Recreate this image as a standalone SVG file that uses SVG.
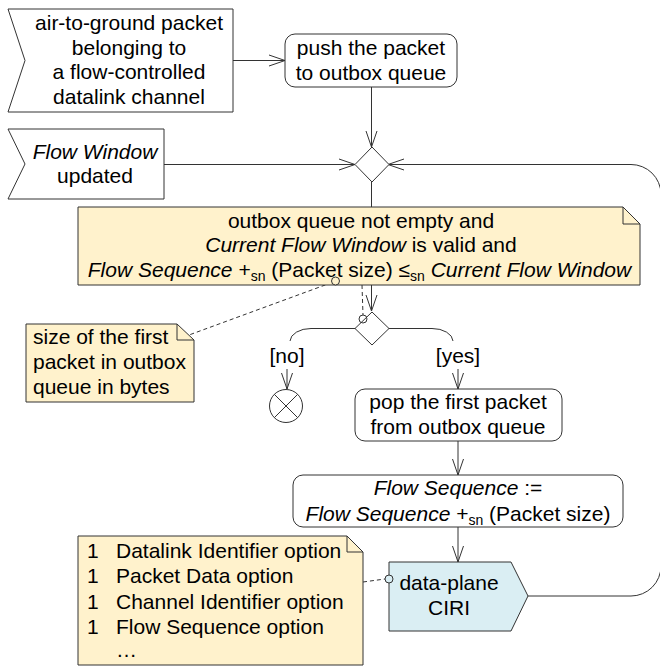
<svg xmlns="http://www.w3.org/2000/svg" width="660" height="666" viewBox="0 0 660 666">
<style>
.t{font-family:"Liberation Sans",Arial,sans-serif;font-size:21px;fill:#000}
.i{font-style:italic}
.s{font-size:14px}
.ln{stroke:#333;stroke-width:1;fill:none}
.d{stroke-dasharray:4 3}
.box{fill:#fff;stroke:#333;stroke-width:1}
.note{fill:#fff2cc;stroke:#333;stroke-width:1}
.sig{fill:#daeef3;stroke:#333;stroke-width:1}
</style>
<defs>
<marker id="arr" viewBox="-17 -7 18 14" refX="0" refY="0" markerWidth="18" markerHeight="14" markerUnits="userSpaceOnUse" orient="auto">
<path d="M-16,-5.5 L0,0 L-16,5.5" fill="none" stroke="#333" stroke-width="1"/>
</marker>
</defs>
<g id="connectors">
<path class="ln" d="M233,60.5 H285" marker-end="url(#arr)"/>
<path class="ln" d="M371.5,87 V147" marker-end="url(#arr)"/>
<path class="ln" d="M164,164.5 H355" marker-end="url(#arr)"/>
<path class="ln" d="M528,596 H631 A30,30 0 0 0 661,566 V194 A30,30 0 0 0 631,164.5 H388" marker-end="url(#arr)"/>
<path class="ln" d="M371.5,182 V311" marker-end="url(#arr)"/>
<path class="ln" d="M355,328.5 H311 A21,13 0 0 0 290,341"/>
<path class="ln" d="M389,328.5 H432 A21,13 0 0 1 453,341"/>
<path class="ln" d="M287,369 V389" marker-end="url(#arr)"/>
<path class="ln" d="M458,369 V389" marker-end="url(#arr)"/>
<path class="ln" d="M458,441 V475" marker-end="url(#arr)"/>
<path class="ln" d="M458,527 V562" marker-end="url(#arr)"/>
<path class="ln d" d="M332,282.5 L189,335"/>
<path class="ln d" d="M362,285 L363,315"/>
<path class="ln d" d="M363,582 L385,579"/>
</g>
<g id="n-packet">
<polygon class="box" points="8,9 233,9 233,112 8,112 25,60.5"/>
<text class="t" text-anchor="middle"><tspan x="129" y="30">air-to-ground packet</tspan><tspan x="129" y="54.5">belonging to</tspan><tspan x="129" y="79">a flow-controlled</tspan><tspan x="129" y="103.5">datalink channel</tspan></text>
</g>
<g id="n-push">
<rect class="box" x="285" y="34" width="172" height="53" rx="10"/>
<text class="t" text-anchor="middle"><tspan x="371" y="54.5">push the packet</tspan><tspan x="371" y="80">to outbox queue</tspan></text>
</g>
<g id="n-window">
<polygon class="box" points="8,129 164,129 164,199 8,199 25,164"/>
<text class="t" text-anchor="middle"><tspan x="95" y="159" class="i">Flow Window</tspan><tspan x="95" y="182.5">updated</tspan></text>
</g>
<g id="n-merge">
<polygon class="box" points="372,147 389,164.5 372,182 355,164.5"/>
</g>
<g id="n-cond">
<path class="note" d="M78,207 H623 L640,224 V285 H78 Z"/>
<path class="ln" d="M623,207 V224 H640"/>
<text class="t" text-anchor="middle" x="361" y="228">outbox queue not empty and</text>
<text class="t" text-anchor="middle" x="361" y="251.5"><tspan class="i">Current Flow Window</tspan> is valid and</text>
<text class="t" text-anchor="middle" x="359.5" y="277"><tspan class="i">Flow Sequence</tspan> +<tspan class="s" dy="4">sn</tspan><tspan dy="-4"> (Packet size) ≤</tspan><tspan class="s" dy="4">sn</tspan><tspan class="i" dy="-4"> Current Flow Window</tspan></text>
<circle cx="335.5" cy="281" r="4" fill="#fff2cc" stroke="#333"/>
</g>
<g id="n-size">
<path class="note" d="M26,324 H177 L194,340 V402 H26 Z"/>
<path class="ln" d="M177,324 V340 H194"/>
<text class="t"><tspan x="33" y="344">size of the first</tspan><tspan x="33" y="369">packet in outbox</tspan><tspan x="33" y="394">queue in bytes</tspan></text>
</g>
<g id="n-decision">
<polygon class="box" points="372,312 389,328.5 372,345 355,328.5"/>
<circle cx="363" cy="319" r="4" fill="none" stroke="#333"/>
</g>
<g id="n-guards">
<text class="t" text-anchor="middle" x="287" y="363">[no]</text>
<text class="t" text-anchor="middle" x="458" y="363">[yes]</text>
</g>
<g id="n-final">
<circle cx="286" cy="406" r="16.5" fill="#fff" stroke="#333"/>
<path class="ln" d="M274.3,394.3 L297.7,417.7 M297.7,394.3 L274.3,417.7"/>
</g>
<g id="n-pop">
<rect class="box" x="355" y="389" width="207" height="52" rx="10"/>
<text class="t" text-anchor="middle"><tspan x="458" y="409">pop the first packet</tspan><tspan x="458" y="434">from outbox queue</tspan></text>
</g>
<g id="n-seq">
<rect class="box" x="293" y="475" width="330" height="52" rx="10"/>
<text class="t" text-anchor="middle" x="458" y="495"><tspan class="i">Flow Sequence</tspan> :=</text>
<text class="t" text-anchor="middle" x="458" y="521"><tspan class="i">Flow Sequence</tspan> +<tspan class="s" dy="4">sn</tspan><tspan dy="-4"> (Packet size)</tspan></text>
</g>
<g id="n-options">
<path class="note" d="M78,536 H347 L363,552 V665 H78 Z"/>
<path class="ln" d="M347,536 V552 H363"/>
<text class="t"><tspan x="87" y="558">1</tspan><tspan x="87" y="583">1</tspan><tspan x="87" y="609">1</tspan><tspan x="87" y="634">1</tspan></text>
<text class="t"><tspan x="116" y="558">Datalink Identifier option</tspan><tspan x="116" y="583">Packet Data option</tspan><tspan x="116" y="609">Channel Identifier option</tspan><tspan x="116" y="634">Flow Sequence option</tspan><tspan x="116" y="657">…</tspan></text>
</g>
<g id="n-ciri">
<polygon class="sig" points="389,562 511,562 528,596 511,631 389,631"/>
<circle cx="389" cy="579" r="4" fill="#daeef3" stroke="#333"/>
<text class="t" text-anchor="middle"><tspan x="449" y="590">data-plane</tspan><tspan x="449" y="615">CIRI</tspan></text>
</g>
</svg>
